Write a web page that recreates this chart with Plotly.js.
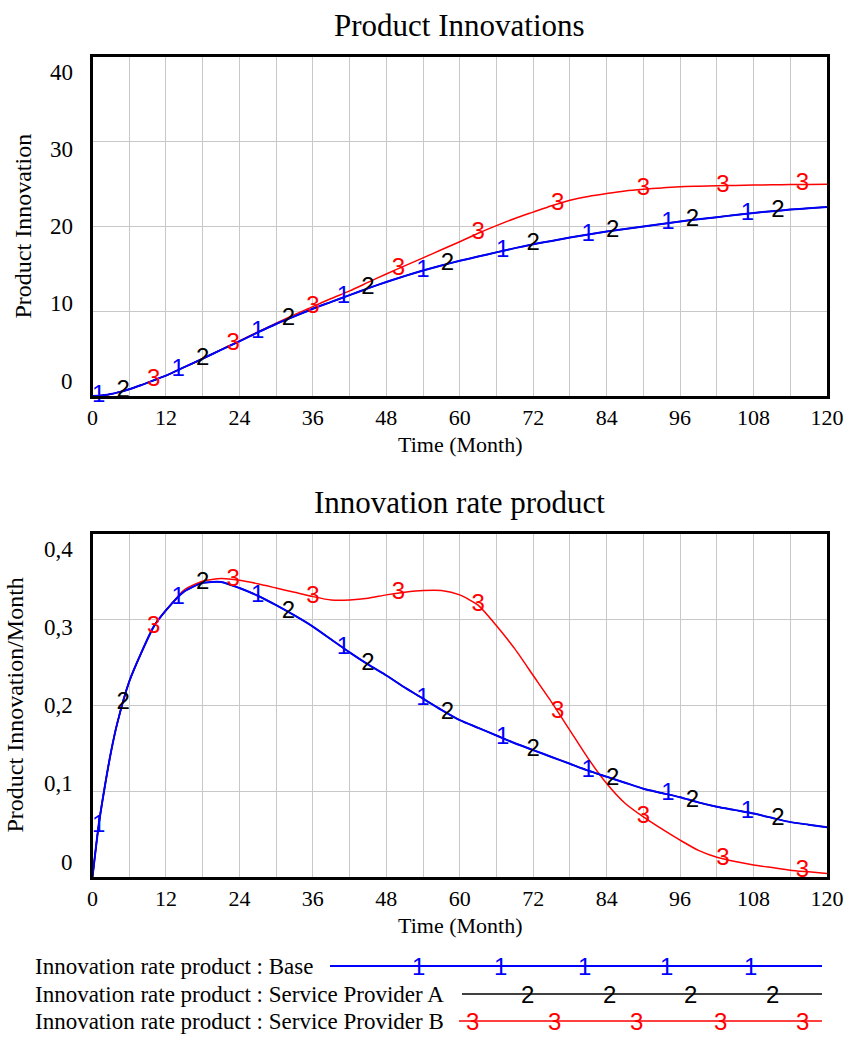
<!DOCTYPE html>
<html>
<head>
<meta charset="utf-8">
<script src="https://cdn.plot.ly/plotly-3.0.1.min.js"></script>
<style>html,body{margin:0;padding:0;background:#fff;}#chart{width:848px;height:1037px;}</style>
</head>
<body>
<div id="chart"></div>
<script>
// ---------------- DATA ----------------
const months = [0,1,2,3,4,6,8,10,12,15,18,21,24,27,30,33,36,39,42,45,48,51,54,57,60,63,66,69,72,75,78,81,84,87,90,93,96,99,102,105,108,111,114,117,120];

// Product Innovation (stock)
const innovBase      = [0,0.03,0.11,0.24,0.4,0.8,1.3,1.85,2.4,3.4,4.4,5.45,6.45,7.5,8.5,9.4,10.3,11.1,11.9,12.7,13.45,14.15,14.8,15.4,15.95,16.45,16.95,17.45,17.9,18.3,18.7,19.05,19.4,19.7,20.0,20.3,20.6,20.85,21.1,21.35,21.6,21.8,22.0,22.15,22.3];
const innovProviderA = [0,0.03,0.11,0.24,0.4,0.8,1.3,1.85,2.4,3.4,4.4,5.45,6.45,7.5,8.5,9.4,10.3,11.1,11.9,12.7,13.45,14.15,14.8,15.4,15.95,16.45,16.95,17.45,17.9,18.3,18.7,19.05,19.4,19.7,20.0,20.3,20.6,20.85,21.1,21.35,21.6,21.8,22.0,22.15,22.3];
const innovProviderB = [0,0.03,0.11,0.24,0.4,0.8,1.3,1.85,2.4,3.4,4.4,5.47,6.5,7.55,8.6,9.6,10.55,11.5,12.4,13.4,14.4,15.35,16.3,17.25,18.2,19.2,20.1,20.95,21.7,22.45,23.1,23.55,23.9,24.2,24.4,24.55,24.7,24.75,24.8,24.85,24.9,24.92,24.95,24.97,25.0];

// Innovation rate product (flow)
const rateBase      = [0,0.06,0.105,0.145,0.178,0.228,0.262,0.292,0.311,0.333,0.343,0.344,0.337,0.328,0.317,0.305,0.292,0.277,0.262,0.248,0.235,0.221,0.208,0.195,0.183,0.174,0.165,0.156,0.148,0.14,0.132,0.124,0.117,0.11,0.103,0.098,0.093,0.087,0.082,0.078,0.074,0.069,0.064,0.061,0.058];
const rateProviderA = [0,0.06,0.105,0.145,0.178,0.228,0.262,0.292,0.311,0.333,0.343,0.344,0.337,0.328,0.317,0.305,0.292,0.277,0.262,0.248,0.235,0.221,0.208,0.195,0.183,0.174,0.165,0.156,0.148,0.14,0.132,0.124,0.117,0.11,0.103,0.098,0.093,0.087,0.082,0.078,0.074,0.069,0.064,0.061,0.058];
const rateProviderB = [0,0.06,0.105,0.145,0.178,0.228,0.262,0.292,0.311,0.335,0.345,0.348,0.346,0.342,0.337,0.332,0.327,0.323,0.323,0.325,0.329,0.332,0.334,0.334,0.329,0.317,0.293,0.266,0.235,0.204,0.171,0.138,0.109,0.086,0.07,0.056,0.043,0.031,0.023,0.018,0.014,0.011,0.008,0.006,0.004];

// months where the series number marks sit on the lines
const markMonths1 = [1,14,27,41,54,67,81,94,107];
const markMonths2 = [5,18,32,45,58,72,85,98,112];
const markMonths3 = [10,23,36,50,63,76,90,103,116];
const markText = ['1','2','3'];

const seriesNames = ['Innovation rate product : Base','Innovation rate product : Service Provider A','Innovation rate product : Service Provider B'];
const chartTitles = ['Product Innovations','Innovation rate product'];
const yTitles = ['Product Innovation','Product Innovation/Month'];
const xTitle = 'Time (Month)';

const xTickVals = [0,12,24,36,48,60,72,84,96,108,120];
const xTickText = ['0','12','24','36','48','60','72','84','96','108','120'];
const yTickValsTop = [0,10,20,30,40];
const yTickTextTop = ['0','10','20','30','40'];
const yTickValsBottom = [0,0.1,0.2,0.3,0.4];
const yTickTextBottom = ['0','0,1','0,2','0,3','0,4'];

// ---------------- STYLE ----------------
const colors = ['#0000ff','#000000','#ff0000'];
const widths = [2,1.5,1.5];
const W = 848, H = 1037;
const serif = 'Liberation Serif, Times New Roman, serif';
const sans = 'Liberation Sans, Arial, sans-serif';
const px = v => v / W;
const py = v => 1 - v / H;

// plot boxes in pixels
const boxes = [
  {left: 92.5, right: 827, top: 57, bottom: 396},
  {left: 92.5, right: 827, top: 534, bottom: 877}
];

function interp(xs, ys, x) {
  for (let i = 1; i < xs.length; i++) {
    if (x <= xs[i]) {
      const f = (x - xs[i-1]) / (xs[i] - xs[i-1]);
      return ys[i-1] + f * (ys[i] - ys[i-1]);
    }
  }
  return ys[ys.length - 1];
}

const data = [];
const panels = [
  {series: [innovBase, innovProviderA, innovProviderB], xa: 'x', ya: 'y'},
  {series: [rateBase, rateProviderA, rateProviderB], xa: 'x2', ya: 'y2'}
];
const markMonths = [markMonths1, markMonths2, markMonths3];

panels.forEach(p => {
  [2,1,0].forEach(k => {
    data.push({
      type: 'scatter', mode: 'lines', x: months, y: p.series[k],
      xaxis: p.xa, yaxis: p.ya, name: seriesNames[k],
      line: {color: colors[k], width: widths[k], shape: 'spline', smoothing: 0.6},
      hoverinfo: 'skip'
    });
  });
  [2,1,0].forEach(k => {
    data.push({
      type: 'scatter', mode: 'text', x: markMonths[k],
      y: markMonths[k].map(m => interp(months, p.series[k], m)),
      text: markMonths[k].map(() => markText[k]),
      textposition: 'middle center',
      textfont: {family: sans, size: 24, color: colors[k]},
      cliponaxis: false, xaxis: p.xa, yaxis: p.ya, hoverinfo: 'skip', showlegend: false
    });
  });
});

function xAxis(box, anchor) {
  return {
    domain: [px(box.left), px(box.right)], anchor: anchor, range: [0,120],
    tickmode: 'array', tickvals: xTickVals, ticktext: xTickText,
    showgrid: true, gridcolor: '#c8c8c8', gridwidth: 1,
    minor: {dtick: 6, tick0: 0, showgrid: true, gridcolor: '#c8c8c8', gridwidth: 1},
    showline: true, linecolor: '#000', linewidth: 3, mirror: true,
    ticks: '', zeroline: false, tickfont: {family: serif, size: 22, color: '#000'}
  };
}
function yAxis(box, anchor, range, vals) {
  return {
    domain: [py(box.bottom), py(box.top)], anchor: anchor, range: range,
    tickmode: 'array', tickvals: vals, showticklabels: false,
    showgrid: true, gridcolor: '#c8c8c8', gridwidth: 1,
    showline: true, linecolor: '#000', linewidth: 3, mirror: true,
    ticks: '', zeroline: false
  };
}

const annotations = [];
// titles
[0,1].forEach(i => {
  const b = boxes[i];
  annotations.push({xref:'paper', yref:'paper', x: px((b.left+b.right)/2), y: py(i===0 ? 25 : 502),
    xanchor:'center', yanchor:'middle', showarrow:false, text: chartTitles[i],
    font:{family: serif, size: 31, color:'#000'}});
  annotations.push({xref:'paper', yref:'paper', x: px((b.left+b.right)/2), y: py(b.bottom + 48),
    xanchor:'center', yanchor:'middle', showarrow:false, text: xTitle,
    font:{family: serif, size: 22, color:'#000'}});
  annotations.push({xref:'paper', yref:'paper', x: px(i===0 ? 22 : 14), y: py((b.top+b.bottom)/2),
    xanchor:'center', yanchor:'middle', showarrow:false, text: yTitles[i], textangle: -90,
    font:{family: serif, size: 24, color:'#000'}});
});
// y tick labels (Vensim spacing)
function yLabels(box, vals, texts) {
  const max = vals[vals.length-1];
  const lo = box.bottom - 15, hi = box.top + 15;
  vals.forEach((v, j) => {
    const ypx = lo - (v/max) * (lo - hi);
    annotations.push({xref:'paper', yref:'paper', x: px(75), y: py(ypx), xanchor:'right', yanchor:'middle',
      showarrow:false, text: texts[j], font:{family: serif, size: 23, color:'#000'}});
  });
}
yLabels(boxes[0], yTickValsTop, yTickTextTop);
yLabels(boxes[1], yTickValsBottom, yTickTextBottom);

// legend (Vensim style)
const shapes = [];
const legendRows = [966, 994, 1021];
const legendLineStart = [330, 462, 459];
const legendLineEnd = 822;
const legendMarkX = [[418,500,584,666,750],[527,609,690,772],[473,554,636,720,802]];
[0,1,2].forEach(k => {
  annotations.push({xref:'paper', yref:'paper', x: px(33), y: py(legendRows[k]), xanchor:'left', yanchor:'middle',
    showarrow:false, text: seriesNames[k], font:{family: serif, size: 23, color:'#000'}});
  shapes.push({type:'line', xref:'paper', yref:'paper', x0: px(legendLineStart[k]), x1: px(legendLineEnd),
    y0: py(legendRows[k]), y1: py(legendRows[k]), line:{color: colors[k], width: widths[k]}});
  legendMarkX[k].forEach(xm => {
    annotations.push({xref:'paper', yref:'paper', x: px(xm), y: py(legendRows[k]), xanchor:'center', yanchor:'middle',
      showarrow:false, text: markText[k], font:{family: sans, size: 24, color: colors[k]}});
  });
});

const layout = {
  width: W, height: H, margin: {l:0, r:0, t:0, b:0},
  paper_bgcolor: '#fff', plot_bgcolor: '#fff', showlegend: false,
  font: {family: serif, color: '#000'},
  xaxis: xAxis(boxes[0], 'y'),
  yaxis: yAxis(boxes[0], 'x', [0,40], yTickValsTop),
  xaxis2: xAxis(boxes[1], 'y2'),
  yaxis2: yAxis(boxes[1], 'x2', [0,0.4], yTickValsBottom),
  annotations: annotations, shapes: shapes
};

Plotly.newPlot('chart', data, layout, {staticPlot: true, displayModeBar: false});
</script>
</body>
</html>
